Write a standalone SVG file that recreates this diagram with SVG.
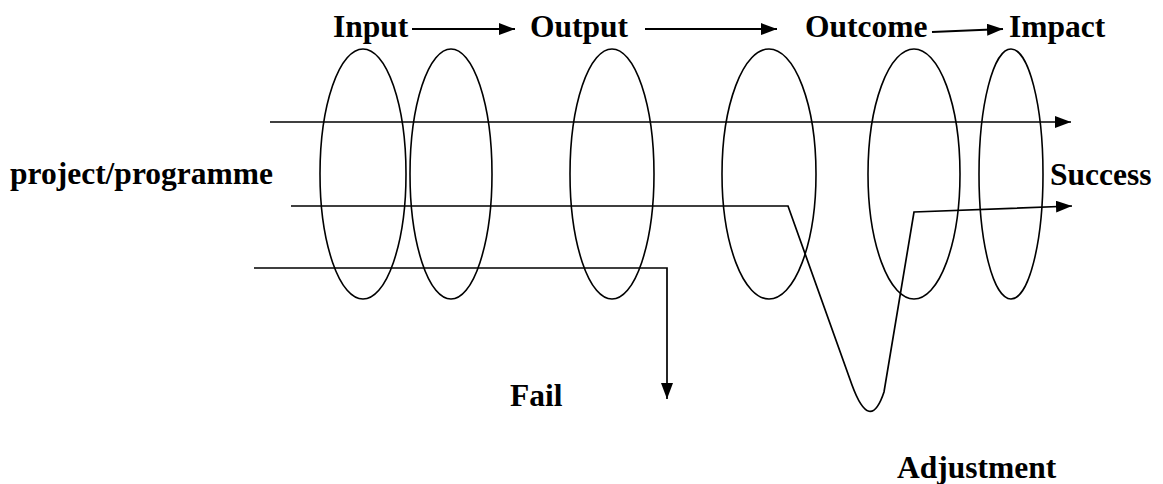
<svg xmlns="http://www.w3.org/2000/svg" width="1163" height="484" viewBox="0 0 1163 484">
<style>
.lbl{font-family:'Liberation Serif','DejaVu Serif','Noto Serif',serif;font-weight:700;font-size:31.5px;fill:#000}
.ring{fill:none;stroke:#000;stroke-width:1.6}
.ln{fill:none;stroke:#000;stroke-width:1.7}
.ar{fill:none;stroke:#000;stroke-width:2.2}
</style>
<defs>
<marker id="ah" markerUnits="userSpaceOnUse" markerWidth="16" markerHeight="12" refX="16" refY="6" orient="auto">
<path d="M0,0 L16,6 L0,12 z" fill="#000"/>
</marker>
</defs>
<rect width="1163" height="484" fill="#fff"/>
<g id="node-input"><text class="lbl" x="333" y="37">Input</text></g>
<g id="node-output"><text class="lbl" x="530" y="37">Output</text></g>
<g id="node-outcome"><text class="lbl" x="805" y="37">Outcome</text></g>
<g id="node-impact"><text class="lbl" x="1009" y="37">Impact</text></g>
<g id="node-project"><text class="lbl" x="10" y="184">project/programme</text></g>
<g id="node-success"><text class="lbl" x="1050" y="185">Success</text></g>
<g id="node-fail"><text class="lbl" x="510" y="406">Fail</text></g>
<g id="node-adjustment"><text class="lbl" x="897" y="478">Adjustment</text></g>
<g id="rings">
<ellipse class="ring" cx="363" cy="174" rx="43" ry="125"/>
<ellipse class="ring" cx="451" cy="174" rx="41" ry="125"/>
<ellipse class="ring" cx="612" cy="174" rx="42" ry="125"/>
<ellipse class="ring" cx="769" cy="174" rx="47" ry="125"/>
<ellipse class="ring" cx="914" cy="174" rx="46" ry="125"/>
<ellipse class="ring" cx="1011" cy="174" rx="32" ry="125"/>
</g>
<g id="connectors">
<line class="ar" x1="412" y1="29" x2="515" y2="29" marker-end="url(#ah)"/>
<line class="ar" x1="645" y1="29" x2="777" y2="29" marker-end="url(#ah)"/>
<line class="ar" x1="932" y1="32" x2="1003" y2="29" marker-end="url(#ah)"/>
<line class="ln" x1="270" y1="122" x2="1071" y2="122" marker-end="url(#ah)"/>
<path class="ln" d="M291,206 L788,206 L852,385 Q870,434 884,392 L914,212 L1072,206" marker-end="url(#ah)"/>
<path class="ln" d="M254,268 L667,268 L667,399" marker-end="url(#ah)"/>
</g>
</svg>
